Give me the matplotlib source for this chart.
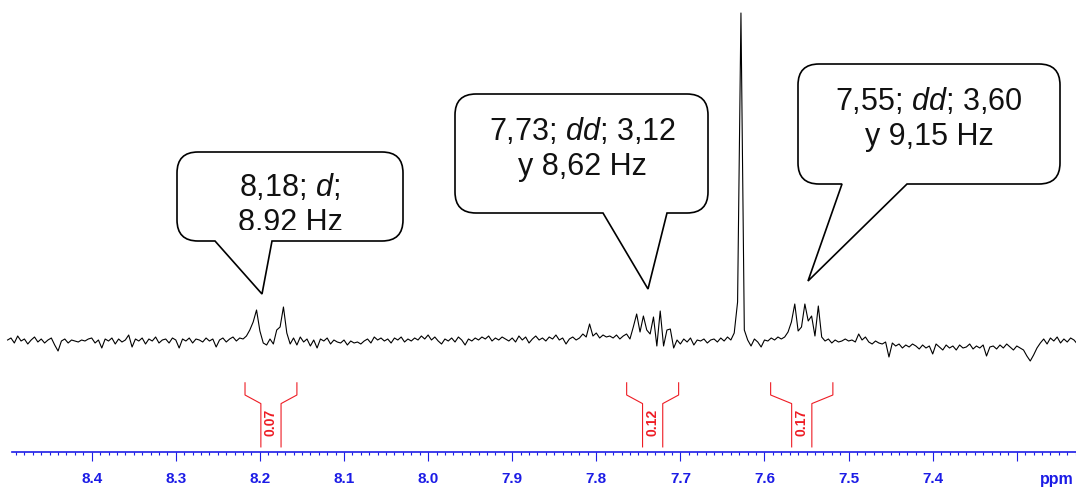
import numpy as np
import matplotlib.pyplot as plt
from matplotlib.path import Path
from matplotlib.patches import PathPatch
from matplotlib.transforms import Affine2D, Bbox

plt.rcParams["font.family"] = ["Liberation Sans", "DejaVu Sans"]
plt.rcParams["mathtext.fontset"] = "custom"
plt.rcParams["mathtext.rm"] = "Liberation Sans"
plt.rcParams["mathtext.it"] = "Liberation Sans:italic"

# spectrum trace, uniform ppm grid starting at 8.50 going upfield
PPM_START = 8.500
PPM_STEP = 0.004
INTENSITY = [
    2, 4, -1, 6, 1, 3, -2, 2, 5, 0,
    3, -1, 2, 4, -3, -9, 1, 3, -1, 2,
    1, 0, 2, 1, 3, 4, -1, 2, -6, 3,
    1, 4, -2, 3, 0, 2, 7, -5, 3, 1,
    4, -2, 3, 1, 5, -1, 2, 3, -1, 4,
    2, -6, 3, 1, 4, -1, 3, 2, 0, 4,
    1, 3, -5, 2, 4, 0, 3, 5, 1, 4,
    3, 6, 12, 20, 32, 11, -1, -3, 3, -2,
    12, 15, 35, 9, -2, 4, -3, 5, 0, 3,
    -4, 2, -6, 3, 1, 4, -2, 2, 0, -1,
    2, -3, 1, -1, 0, -2, 1, 3, -1, 5,
    2, 4, 1, 3, -1, 4, 2, 5, 0, 3,
    1, 4, 2, 6, 3, 7, 2, 5, 1, -2,
    3, 1, 4, 0, 5, 2, -3, 3, 1, 4,
    2, 5, 3, 6, 1, 4, 2, 5, 3, 1,
    4, 0, 6, 2, 5, -1, 3, 6, 2, 4,
    1, 5, 3, 7, 2, 4, -2, 3, 5, 2,
    4, 8, 5, 18, 6, 9, 4, 7, 5, 6,
    4, 7, 3, 6, 8, 3, 15, 28, 10, 26,
    12, 8, 25, -4, 31, -4, 12, 13, -6, 2,
    -2, 3, 0, 4, -3, 2, 1, 3, -1, 2,
    3, 0, 4, 1, 5, 2, 9, 40, 329, 12,
    2, -4, 3, 0, -5, 2, 1, 4, 2, 5,
    3, 5, 10, 20, 38, 11, 15, 38, 21, 26,
    6, 36, 5, 1, 3, -1, 2, 0, 1, 3,
    1, 2, 0, 8, 2, 5, 0, -2, 1, -1,
    -2, 0, -15, -1, -4, -2, -6, -3, -5, -2,
    -4, -7, -3, -6, -4, -12, -2, -5, -8, -3,
    -6, -4, -8, -3, -6, -5, -2, -7, -4, -6,
    -3, -14, -5, -4, -7, -3, -6, -2, -5, -8,
    -4, -6, -8, -14, -19, -13, -6, -1, 3, -2,
    4, 1, 5, -1, 3, 0, 4, 2, -2,
]

# integrals
INT_START = [8.2177, 7.7639, 7.5927]
INT_END = [8.1560, 7.7021, 7.5187]
INT_LABELS = ["0.07", "0.12", "0.17"]

# axis
TICK_POS = [8.4, 8.3, 8.2, 8.1, 8.0, 7.9, 7.8, 7.7, 7.6, 7.5, 7.4, 7.3]
TICK_LABELS = ["8.4", "8.3", "8.2", "8.1", "8.0", "7.9", "7.8", "7.7", "7.6", "7.5", "7.4", ""]

# callouts: two text lines each
CALLOUT_LINES = [
    ["8,18; $\\mathit{d}$;", "8.92 Hz"],
    ["7,73; $\\mathit{dd}$; 3,12", "y 8,62 Hz"],
    ["7,55; $\\mathit{dd}$; 3,60", "y 9,15 Hz"],
]

W, H = 1076, 489
BLUE = "#1c1ce6"
RED = "#ee1c24"

fig = plt.figure(figsize=(W / 100, H / 100), dpi=100)
ax = fig.add_axes([0, 0, 1, 1])
ax.set_xlim(8.50904, 7.22960)
ax.set_ylim(-146, 343)

ppm = PPM_START - PPM_STEP * np.arange(len(INTENSITY))
ax.plot(ppm, INTENSITY, color="black", lw=0.8, zorder=2)

# ruler axis
for side in ["left", "right", "top"]:
    ax.spines[side].set_visible(False)
ax.spines["bottom"].set_position(("data", -110.0))
ax.spines["bottom"].set_bounds(8.495, 7.2296)
ax.spines["bottom"].set_color(BLUE)
ax.spines["bottom"].set_linewidth(1.2)
ax.set_yticks([])
ax.set_xticks(TICK_POS, labels=TICK_LABELS)
ax.set_xticks(np.round(np.arange(7.23, 8.495, 0.01), 2), minor=True)
ax.tick_params(axis="x", which="major", direction="out", length=6.5, width=0.8,
               color=BLUE, labelcolor=BLUE, pad=7, labelsize=11)
ax.tick_params(axis="x", which="minor", direction="out", length=2.3, width=0.8, color=BLUE)
for lab in ax.get_xticklabels():
    lab.set_fontweight("bold")
ax.text(7.2724, -141.3, "ppm", color=BLUE, fontsize=11.5, fontweight="bold",
        ha="left", va="baseline")

# integral brackets
for start, end, label in zip(INT_START, INT_END, INT_LABELS):
    mid = (start + end) / 2
    gap = 0.012
    xs = [start, start, mid + gap, mid + gap]
    ys = [-40.8, -53.0, -61.6, -104.9]
    ax.plot(xs, ys, color=RED, lw=0.8)
    xs = [end, end, mid - gap, mid - gap]
    ax.plot(xs, ys, color=RED, lw=0.8)
    ax.text(mid, -79.5, label, color=RED, fontsize=10, fontweight="bold",
            rotation=90, ha="center", va="center")

# speech-bubble callouts, laid out in pixels from the top-left corner
px = Affine2D().scale(1, -1).translate(0, H)
boxes = [
    dict(L=177, R=403, T=153, B=242, tl=215, tr=272, tip=(262, 295), cx=290,
         base=[196, 231], clip=231),
    dict(L=455, R=708, T=95, B=214, tl=603, tr=667, tip=(648, 290), cx=582,
         base=[140, 175], clip=None),
    dict(L=798, R=1060, T=65, B=185, tl=842, tr=907, tip=(808, 282), cx=929,
         base=[110, 145], clip=None),
]


def bubble_path(L, R, T, B, tl, tr, tip, r=21):
    verts = [
        (tl, B), tip, (tr, B), (R - r, B),
        (R, B), (R, B - r), (R, T + r),
        (R, T), (R - r, T), (L + r, T),
        (L, T), (L, T + r), (L, B - r),
        (L, B), (L + r, B), (tl, B), (tl, B),
    ]
    codes = [
        Path.MOVETO, Path.LINETO, Path.LINETO, Path.LINETO,
        Path.CURVE3, Path.CURVE3, Path.LINETO,
        Path.CURVE3, Path.CURVE3, Path.LINETO,
        Path.CURVE3, Path.CURVE3, Path.LINETO,
        Path.CURVE3, Path.CURVE3, Path.LINETO, Path.CLOSEPOLY,
    ]
    return Path(verts, codes)


for b, lines in zip(boxes, CALLOUT_LINES):
    path = bubble_path(b["L"], b["R"], b["T"], b["B"], b["tl"], b["tr"], b["tip"])
    patch = PathPatch(path, facecolor="white", edgecolor="black", lw=1.2,
                      transform=px, zorder=3)
    ax.add_artist(patch)
    for k, line in enumerate(lines):
        t = ax.text(b["cx"], b["base"][k], line, transform=px, fontsize=22,
                    ha="center", va="baseline", zorder=4, color="#111111")
        if b["clip"] is not None and k == 1:
            t.set_clip_box(Bbox.from_extents(0, H - b["clip"], W, H))
            t.set_clip_on(True)

fig.savefig("out.png", dpi=100)
